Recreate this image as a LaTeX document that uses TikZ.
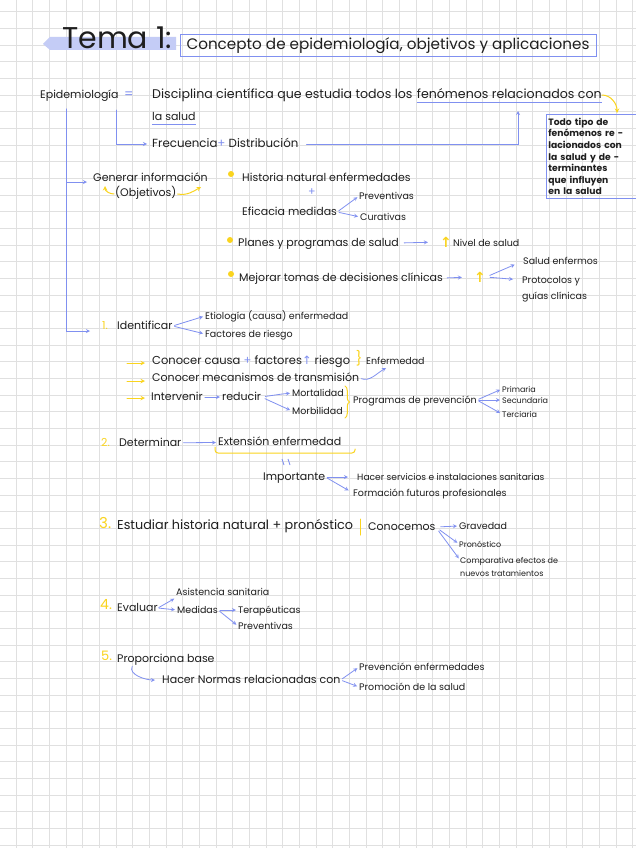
\documentclass[tikz,border=0pt]{standalone}
\usepackage{fontspec}
\setmainfont{Poppins}
\newfontfamily\symfont{DejaVu Sans}
\usepackage{tikz}
\usetikzlibrary{positioning, calc, decorations.pathreplacing}

\definecolor{penblue}{RGB}{128,144,240}
\definecolor{penyellow}{RGB}{250,212,30}
\definecolor{hilite}{RGB}{196,204,246}
\definecolor{gridgray}{RGB}{224,224,224}
\definecolor{ink}{RGB}{30,30,30}

\newcommand{\fmain}{\fontsize{11}{13}\selectfont}
\newcommand{\fwide}{\fontsize{12.6}{14}\selectfont}
\newcommand{\fmid}{\fontsize{9.5}{11}\selectfont}
\newcommand{\fsmall}{\fontsize{8}{10}\selectfont}
\newcommand{\fnote}{\fontsize{9.2}{11.6}\selectfont\bfseries}
\newcommand{\fhead}{\fontsize{15.2}{17}\selectfont}
\newcommand{\ftitle}{\fontsize{30}{32}\selectfont}
\newcommand{\upar}{{\symfont ↑}}

\begin{document}
\begin{tikzpicture}[
    x=1pt, y=-1pt,
    txt/.style={anchor=west, inner sep=0pt, text=ink, font=\fmain, text height=1.6ex, text depth=0.4ex},
    mid/.style={txt, font=\fmid},
    small/.style={txt, font=\fsmall},
    num/.style={txt, text=penyellow},
    arr/.style={->, >=stealth, draw=penblue, line width=0.8pt, line cap=round, shorten >=2pt, shorten <=2pt},
    yarr/.style={->, >=stealth, draw=penyellow, line width=1pt, line cap=round},
    yline/.style={draw=penyellow, line width=1pt, line cap=round},
    ybrace/.style={yline, decorate, decoration={brace, amplitude=4.5pt}},
    dot/.style={circle, fill=penyellow, inner sep=0pt, minimum size=6pt},
    up/.style={inner sep=0pt, text=penyellow, font=\fontsize{14}{14}\selectfont\bfseries},
    gridline/.style={draw=gridgray, line width=0.8pt}
]

\useasboundingbox (0,0) rectangle (636,848);
\fill[white] (0,0) rectangle (636,848);
\foreach \gx in {0,...,37}
    \draw[gridline] ({16+16.67*\gx},0) -- ({16+16.67*\gx},848);
\foreach \gy in {0,...,50}
    \draw[gridline] (0,{11.7+16.67*\gy}) -- (636,{11.7+16.67*\gy});

\fill[hilite] (43,44) -- (50,37) -- (176,37) -- (176,50) -- (50,50) -- cycle;
\node[txt, font=\ftitle, text height=, text depth=] (tema) at (62,38) {Tema 1:};
\node[draw=penblue, line width=0.8pt, inner sep=0pt, minimum width=416pt, minimum height=22pt,
      text=ink, font=\fhead] (titulo) at (388,45.5) {Concepto de epidemiología, objetivos y aplicaciones};

\node[txt] (epi) at (40,95) {Epidemiología};
\node[txt, text=penblue, font=\fontsize{13}{13}\selectfont] (igual) at (124,95) {=};
\node[txt, font=\fwide] (disc) at (152,95) {Disciplina científica que estudia todos los};
\node[txt, font=\fwide, right=4pt of disc] (fen) {fenómenos relacionados con};
\draw[penblue, line width=0.8pt] ([yshift=-1.5pt]fen.south west) -- ([yshift=-1.5pt]fen.south east);
\node[txt] (lasalud) at (152,117) {la salud};
\draw[penblue, line width=0.8pt] ([yshift=-1.5pt]lasalud.south west) -- ([yshift=-1.5pt]lasalud.south east);
\node[txt, font=\fontsize{11.8}{13}\selectfont] (frec) at (152,144) {Frecuencia\textcolor{penblue}{+} Distribución};

\node[draw=penblue, line width=0.8pt, anchor=north west, minimum width=96pt, minimum height=84pt,
      inner sep=2pt, text width=92pt, align=left, font=\fnote, text=ink] (def) at (546,114)
      {Todo tipo de\\ fenómenos re -\\ lacionados con\\ la salud y de -\\ terminantes\\ que influyen\\ en la salud};
\coordinate (deftop) at (617,113);
\draw[yarr] (fen.east) to[out=0, in=90] (deftop);

\coordinate (epicodo) at (116,108);
\draw[arr] (epicodo) |- ([xshift=-3pt]frec.west);
\coordinate (fenup) at (518,111);
\draw[arr, shorten <=8pt, shorten >=0pt] (frec.east) -| (fenup);

\coordinate (trunk) at (66,107);
\node[txt] (gen) at (93,178) {Generar información};
\node[txt] (obj) at (115,193) {(Objetivos)};
\draw[arr] (trunk) |- ([xshift=-4pt, yshift=-4pt]gen.west);
\coordinate (objL) at (105,186);
\coordinate (objR) at (201,187);
\draw[yarr] ([xshift=-1pt, yshift=-1pt]obj.west) to[out=180, in=-90] (objL);
\draw[yarr] ([xshift=1pt, yshift=-1pt]obj.east) to[out=-10, in=210] (objR);

\node[dot] (b1) at (231,174) {};
\node[txt] (hist) at (242,178) {Historia natural enfermedades};
\node[txt, anchor=center, text=penblue] (mas) at (312,192) {+};
\node[txt] (efic) at (242,212) {Eficacia medidas};
\node[mid] (prev) at (359,196) {Preventivas};
\node[mid] (cura) at (360,217) {Curativas};
\draw[arr] (efic.east) -- (prev.west);
\draw[arr] (efic.east) -- (cura.west);

\node[dot] (b2) at (230,240) {};
\node[txt] (planes) at (238,243) {Planes y programas de salud};
\node[up] (up1) at (446,242) {\upar};
\node[mid] (nivel) at (453,243) {Nivel de salud};
\draw[arr, shorten <=5pt, shorten >=12pt] (planes.east) -- (up1.west);

\node[dot] (b3) at (231,274) {};
\node[txt] (mejorar) at (239,278) {Mejorar tomas de decisiones clínicas};
\node[up] (up2) at (480,277) {\upar};
\node[mid] (salud) at (523,261) {Salud enfermos};
\node[mid] (proto) at (522,280) {Protocolos y};
\node[mid] (guias) at (522,296) {guías clínicas};
\draw[arr, shorten <=4pt, shorten >=12pt] (mejorar.east) -- (up2.west);
\draw[arr, shorten <=4pt, shorten >=9pt] (up2.east) -- (salud.west);
\draw[arr, shorten <=4pt, shorten >=9pt] (up2.east) -- (proto.west);

\node[num] (n1) at (102,326) {1.};
\node[txt] (ident) at (117,326) {Identificar};
\draw[arr, shorten >=12pt] (trunk) |- ([yshift=-5pt]n1.west);
\node[mid] (etio) at (205,316) {Etiología (causa) enfermedad};
\node[mid] (fact) at (205,334) {Factores de riesgo};
\draw[arr] (ident.east) -- (etio.west);
\draw[arr] (ident.east) -- (fact.west);

\coordinate (ya1) at (127,363);
\coordinate (ya2) at (127,381);
\coordinate (ya3) at (127,398);
\node[txt, font=\fontsize{11.5}{13}\selectfont] (causa) at (152,361) {Conocer causa \textcolor{penblue}{+} factores\textcolor{penblue}{\upar} riesgo};
\node[txt] (meca) at (152,378) {Conocer mecanismos de transmisión};
\node[txt] (interv) at (151,397) {Intervenir};
\draw[yarr, shorten >=7pt] (ya1) -- (ya1 -| causa.west);
\draw[yarr, shorten >=7pt] (ya2) -- (ya2 -| meca.west);
\draw[yarr, shorten >=6pt] (ya3) -- (ya3 -| interv.west);
\node[txt, anchor=center, text=penyellow, font=\fontsize{14}{14}\selectfont] (br1) at (359,360) {\}};
\node[mid] (enf) at (366,361) {Enfermedad};
\coordinate (enfin) at (386,368);
\draw[arr, shorten >=0pt] (meca.east) to[out=-20, in=210] (enfin);

\node[txt] (reduc) at (222,397) {reducir};
\draw[arr] (interv) -- (reduc);
\node[mid] (mort) at (292,393) {Mortalidad};
\node[mid] (morb) at (292,411) {Morbilidad};
\draw[arr, shorten <=4pt] (reduc.east) -- ++(21,-3) -- (mort.west);
\draw[arr, shorten <=4pt] (reduc.east) -- (morb.west);
\draw[ybrace] (345,386) -- (345,418);
\node[mid] (progr) at (353,400) {Programas de prevención};
\node[small] (prim) at (502,389) {Primaria};
\node[small] (secu) at (502,400) {Secundaria};
\node[small] (terc) at (502,414) {Terciaria};
\draw[arr] (progr.east) -- (prim.west);
\draw[arr] (progr.east) -- (secu.west);
\draw[arr] (progr.east) -- (terc.west);

\node[num] (n2) at (101,443) {2.};
\node[txt] (deter) at (119,443) {Determinar};
\node[txt] (exten) at (218,442) {Extensión enfermedad};
\draw[arr] (deter) -- (exten);
\draw[yline, rounded corners=3pt] (215,447) -- (215,453) -- (355,453) -- (355,449);
\draw[penblue, line width=0.8pt] (282,459) -- (284,465) (288,459) -- (290,465);
\node[txt] (impor) at (263,477) {Importante};
\node[small, font=\fontsize{9.1}{11}\selectfont] (hacer) at (357,477) {Hacer servicios e instalaciones sanitarias};
\node[mid] (forma) at (353,493) {Formación futuros profesionales};
\draw[arr, shorten >=9pt] (impor.east) -- (hacer.west);
\draw[arr, shorten >=5pt] (impor.east) -- (forma.west);

\node[num, font=\fontsize{15}{15}\selectfont] (n3) at (99,525) {3.};
\node[txt, font=\fontsize{12.8}{14}\selectfont] (estud) at (117,526) {Estudiar historia natural + pronóstico};
\draw[yline] (360,519) -- (360,535);
\node[txt] (conoc) at (368,527) {Conocemos};
\node[mid] (grav) at (459,526) {Gravedad};
\node[small] (pron) at (459,544) {Pronóstico};
\node[small] (compa) at (460,560) {Comparativa efectos de};
\node[small] (nuevos) at (460,573) {nuevos tratamientos};
\draw[arr, shorten <=5pt] (conoc.east) -- (grav.west);
\draw[arr, shorten <=5pt] (conoc.east) -- (pron.west);
\draw[arr, shorten <=5pt] (conoc.east) -- (compa.west);

\node[num, font=\fontsize{14}{14}\selectfont] (n4) at (100,606) {4.};
\node[txt] (evalu) at (117,608) {Evaluar};
\node[mid] (asist) at (176,592) {Asistencia sanitaria};
\node[mid] (medid) at (177,610) {Medidas};
\draw[arr, shorten <=1pt] (evalu.east) -- (asist.south west);
\draw[arr, shorten <=1pt] (evalu.east) -- (medid.west);
\node[mid] (tera) at (238,610) {Terapéuticas};
\node[mid] (prev2) at (238,626) {Preventivas};
\draw[arr] (medid.east) -- (tera.west);
\draw[arr] (medid.east) -- (prev2.west);

\node[num, font=\fontsize{13}{13}\selectfont] (n5) at (101,657) {5.};
\node[txt] (propo) at (117,659) {Proporciona base};
\node[txt] (normas) at (162,680) {Hacer Normas relacionadas con};
\draw[arr] ([xshift=16pt]propo.south west) to[out=-115, in=180] ([xshift=-5pt]normas.west);
\node[mid] (preven) at (359,667) {Prevención enfermedades};
\node[mid] (promo) at (359,687) {Promoción de la salud};
\draw[arr] (normas.east) -- (preven.west);
\draw[arr] (normas.east) -- (promo.west);

\end{tikzpicture}
\end{document}
